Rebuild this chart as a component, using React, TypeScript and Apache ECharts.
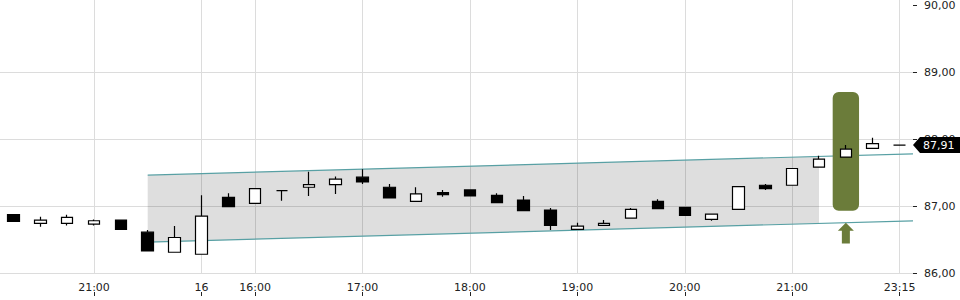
import React, { useEffect, useRef } from 'react';
import * as echarts from 'echarts';

// 15-minute candles (category axis, session gaps removed)
const categories = [
  '20:15', '20:30', '20:45', '21:00', '21:15', '21:30', '21:45',
  '15:30', '15:45', '16:00', '16:15', '16:30', '16:45', '17:00', '17:15', '17:30', '17:45',
  '18:00', '18:15', '18:30', '18:45', '19:00', '19:15', '19:30', '19:45', '20:00', '20:15',
  '20:30', '20:45', '21:00', '21:15', '21:30', '21:45', '23:15',
];
const opens = [
  86.87, 86.74, 86.74, 86.73, 86.79, 86.61, 86.31, 86.28, 87.13, 87.04, 87.23, 87.28,
  87.32, 87.43, 87.28, 87.07, 87.2, 87.24, 87.16, 87.09, 86.94, 86.65, 86.71, 86.82,
  87.07, 86.98, 86.8, 86.95, 87.31, 87.31, 87.58, 87.73, 87.86, 87.91,
];
const closes = [
  86.77, 86.79, 86.83, 86.78, 86.65, 86.33, 86.53, 86.85, 86.99, 87.26, 87.23, 87.32,
  87.4, 87.36, 87.12, 87.18, 87.17, 87.15, 87.05, 86.93, 86.71, 86.7, 86.74, 86.95,
  86.96, 86.86, 86.88, 87.29, 87.26, 87.56, 87.7, 87.85, 87.93, 87.91,
];
const lows = [
  86.77, 86.69, 86.71, 86.71, 86.65, 86.33, 86.31, 86.28, 86.99, 87.04, 87.08, 87.15,
  87.18, 87.33, 87.12, 87.07, 87.14, 87.15, 87.05, 86.92, 86.64, 86.65, 86.71, 86.82,
  86.96, 86.86, 86.78, 86.95, 87.24, 87.31, 87.58, 87.73, 87.86, 87.91,
];
const highs = [
  86.88, 86.84, 86.87, 86.8, 86.79, 86.64, 86.7, 87.16, 87.19, 87.26, 87.23, 87.51,
  87.44, 87.55, 87.33, 87.28, 87.24, 87.25, 87.19, 87.15, 86.97, 86.75, 86.79, 86.97,
  87.1, 86.98, 86.88, 87.29, 87.33, 87.56, 87.75, 87.91, 88.02, 87.91,
];

const tickIndices = [3, 7, 9, 13, 17, 21, 25, 29, 33];
const tickLabels = ['21:00', '16', '16:00', '17:00', '18:00', '19:00', '20:00', '21:00', '23:15'];
const yTicks = [86, 87, 88, 89, 90];

// trend channel anchors (candle index -> price)
const channelIdx = [5, 30];
const channelUpper = [87.46, 87.74];
const channelLower = [86.46, 86.74];

// highlighted candle and signal arrow
const highlightIdx = 31;
const highlightRange = [88.7, 86.93];
const arrowRange = [86.75, 86.44];
const lastPrice = 87.91;

const fmt = (v: number) => v.toFixed(2).replace('.', ',');
const GREEN = '#6b7c3a';
const FONT = 'DejaVu Sans';

export default function App() {
  const ref = useRef<HTMLDivElement>(null);
  useEffect(() => {
    if (!ref.current) return;
    const chart = echarts.init(ref.current, undefined, { renderer: 'svg' });
    const gridIdx = (k: number) => k % 2 === 1 && tickIndices.includes((k - 1) / 2);
    const option: any = {
      animation: false,
      textStyle: { fontFamily: FONT },
      grid: { left: 0, right: 47, top: 0, bottom: 27, outerBoundsMode: 'none', containLabel: false },
      xAxis: [
        {
          type: 'category',
          data: categories,
          boundaryGap: true,
          axisLine: { show: false },
          axisTick: { show: false },
          splitLine: { show: false },
          axisLabel: {
            show: true,
            margin: 9,
            fontSize: 11,
            color: '#222',
            fontFamily: FONT,
            hideOverlap: false,
            interval: (i: number) => tickIndices.includes(i),
            formatter: (_v: string, i: number) => {
              const p = tickIndices.indexOf(i);
              return p >= 0 ? tickLabels[p] : '';
            },
          },
        },
        {
          type: 'category',
          data: Array.from({ length: categories.length * 2 + 1 }, (_, k) => String(k)),
          boundaryGap: false,
          position: 'bottom',
          offset: 23,
          axisLine: { show: false },
          axisLabel: { show: false },
          axisTick: {
            show: true,
            inside: true,
            length: 4,
            interval: gridIdx,
            lineStyle: { color: '#222', width: 1 },
          },
          splitLine: {
            show: true,
            interval: gridIdx,
            lineStyle: { color: '#dcdcdc', width: 1 },
          },
        },
      ],
      yAxis: {
        type: 'value',
        position: 'right',
        min: 86,
        max: 90.075,
        interval: 1,
        axisLine: { show: false },
        axisTick: { show: true, length: 4, customValues: yTicks, lineStyle: { color: '#222' } },
        axisLabel: {
          margin: 11,
          fontSize: 11,
          color: '#222',
          fontFamily: FONT,
          customValues: yTicks,
          formatter: (v: number) => (Math.abs(v - Math.round(v)) > 1e-6 ? '' : fmt(v)),
        },
        splitLine: { show: true, showMaxLine: false, lineStyle: { color: '#dcdcdc', width: 1 } },
      },
      series: [
        {
          type: 'custom',
          name: 'channel',
          xAxisIndex: 0,
          yAxisIndex: 0,
          z: 1,
          silent: true,
          clip: true,
          data: [[channelIdx[0], channelUpper[0]]],
          renderItem: (params: any, api: any) => {
            const cs = params.coordSys;
            const u0 = api.coord([channelIdx[0], channelUpper[0]]);
            const u1 = api.coord([channelIdx[1], channelUpper[1]]);
            const l0 = api.coord([channelIdx[0], channelLower[0]]);
            const l1 = api.coord([channelIdx[1], channelLower[1]]);
            const xr = cs.x + cs.width;
            const ext = (a: number[], b: number[]) => [xr, a[1] + ((b[1] - a[1]) * (xr - a[0])) / (b[0] - a[0])];
            return {
              type: 'group',
              children: [
                { type: 'polygon', shape: { points: [u0, u1, l1, l0] }, style: { fill: 'rgba(0,0,0,0.13)' } },
                { type: 'polyline', shape: { points: [u0, ext(u0, u1)] }, style: { stroke: '#58a0a4', lineWidth: 1.2, fill: 'none' } },
                { type: 'polyline', shape: { points: [l0, ext(l0, l1)] }, style: { stroke: '#58a0a4', lineWidth: 1.2, fill: 'none' } },
              ],
            };
          },
        },
        {
          type: 'custom',
          name: 'highlight',
          xAxisIndex: 0,
          yAxisIndex: 0,
          z: 2,
          silent: true,
          clip: false,
          data: [[highlightIdx, highlightRange[0]]],
          renderItem: (_params: any, api: any) => {
            const top = api.coord([highlightIdx, highlightRange[0]]);
            const bot = api.coord([highlightIdx, highlightRange[1]]);
            const w = api.size([1, 0])[0] - 0.5;
            const tip = api.coord([highlightIdx, arrowRange[0]]);
            const base = api.coord([highlightIdx, arrowRange[1]]);
            const cx = tip[0];
            const hy = tip[1] + 8;
            return {
              type: 'group',
              children: [
                {
                  type: 'rect',
                  shape: { x: cx - w / 2, y: top[1], width: w, height: bot[1] - top[1], r: 6 },
                  style: { fill: GREEN },
                },
                {
                  type: 'polygon',
                  shape: {
                    points: [
                      [cx, tip[1]], [cx + 8, hy], [cx + 4, hy], [cx + 4, base[1]],
                      [cx - 4, base[1]], [cx - 4, hy], [cx - 8, hy],
                    ],
                  },
                  style: { fill: GREEN },
                },
              ],
            };
          },
        },
        {
          type: 'candlestick',
          name: 'price',
          xAxisIndex: 0,
          yAxisIndex: 0,
          z: 3,
          silent: true,
          barWidth: 12,
          data: opens.map((o, i) => [o, closes[i], lows[i], highs[i]]),
          itemStyle: {
            color: '#ffffff',
            color0: '#000000',
            borderColor: '#000000',
            borderColor0: '#000000',
            borderColorDoji: '#000000',
            borderWidth: 1.2,
          },
        },
        {
          type: 'custom',
          name: 'lastTag',
          xAxisIndex: 0,
          yAxisIndex: 0,
          z: 20,
          silent: true,
          clip: false,
          data: [[categories.length - 1, lastPrice]],
          renderItem: (params: any, api: any) => {
            const cs = params.coordSys;
            const p = api.coord([categories.length - 1, lastPrice]);
            const y = p[1];
            const xr = cs.x + cs.width;
            const W = api.getWidth();
            return {
              type: 'group',
              children: [
                {
                  type: 'polygon',
                  shape: { points: [[xr, y], [xr + 7, y - 8], [W, y - 8], [W, y + 8], [xr + 7, y + 8]] },
                  style: { fill: '#000' },
                },
                {
                  type: 'text',
                  x: xr + 10,
                  y: y + 0.5,
                  style: {
                    text: fmt(lastPrice),
                    fill: '#fff',
                    fontSize: 11,
                    fontFamily: FONT,
                    verticalAlign: 'middle',
                    align: 'left',
                  },
                },
              ],
            };
          },
        },
      ],
    };
    chart.setOption(option);
    return () => chart.dispose();
  }, []);
  return (
    <div
      ref={ref}
      style={{ position: 'fixed', left: 0, top: 0, width: 960, height: 300, background: '#fff' }}
    />
  );
}
